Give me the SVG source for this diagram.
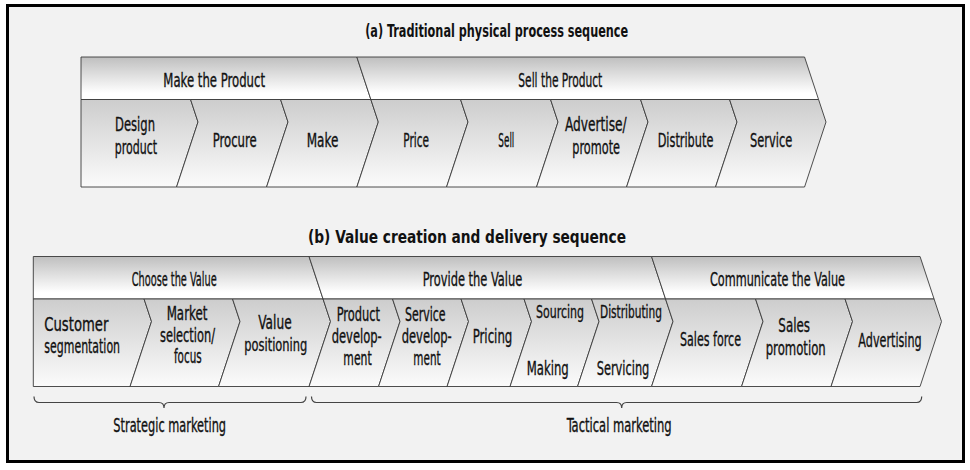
<svg xmlns="http://www.w3.org/2000/svg" width="970" height="470" viewBox="0 0 970 470">
<style>
.hd{fill:url(#gh);stroke:#3a3a3a;stroke-width:0.9}
.it{fill:url(#gi);stroke:#3a3a3a;stroke-width:0.9}
text{font-family:"Liberation Sans Narrow","DejaVu Sans Condensed","Liberation Sans",Arial,sans-serif;fill:#111;text-anchor:middle}
.t{font-size:17px;font-weight:bold}
.l{font-size:20px;stroke:#111;stroke-width:0.35}
.s{font-size:19px}
.xs{font-size:18px}
.br{fill:none;stroke:#444;stroke-width:1.2}
</style>
<defs>
<linearGradient id="gh" x1="0" y1="0" x2="0" y2="1"><stop offset="0" stop-color="#bfbfbf"/><stop offset="0.85" stop-color="#ffffff"/><stop offset="1" stop-color="#ffffff"/></linearGradient>
<linearGradient id="gi" x1="0" y1="0" x2="0" y2="1"><stop offset="0" stop-color="#cdcdcd"/><stop offset="1" stop-color="#fbfbfb"/></linearGradient>
</defs>
<rect x="7.5" y="5.5" width="956" height="456" fill="#f2f2f2" stroke="#000" stroke-width="3"/>
<text class="t" x="496.7" y="36.7" textLength="263" lengthAdjust="spacingAndGlyphs">(a) Traditional physical process sequence</text>
<text class="t" x="467" y="242.7" textLength="318" lengthAdjust="spacingAndGlyphs">(b) Value creation and delivery sequence</text>

<g id="a-make-product"><polygon class="hd" points="81,57 356.85,57 370.87,99.5 81,99.5"/><text class="l" x="214.2" y="87" textLength="101.7" lengthAdjust="spacingAndGlyphs">Make the Product</text></g>
<g id="a-sell-product"><polygon class="hd" points="356.85,57 804.55,57 818.57,99.5 370.87,99.5"/><text class="l" x="560.3" y="87" textLength="84" lengthAdjust="spacingAndGlyphs">Sell the Product</text></g>
<g id="a-design"><polygon class="it" points="81,99.5 190.57,99.5 198,122 176.55,187 81,187"/><text class="l" x="135" y="130.5" textLength="40" lengthAdjust="spacingAndGlyphs">Design</text><text class="l" x="136" y="153.5" textLength="42.3" lengthAdjust="spacingAndGlyphs">product</text></g>
<g id="a-procure"><polygon class="it" points="190.57,99.5 280.57,99.5 288,122 266.55,187 176.55,187 198,122"/><text class="l" x="234.7" y="146.7" textLength="44" lengthAdjust="spacingAndGlyphs">Procure</text></g>
<g id="a-make"><polygon class="it" points="280.57,99.5 370.87,99.5 378.3,122 356.85,187 266.55,187 288,122"/><text class="l" x="322.5" y="146.7" textLength="31.7" lengthAdjust="spacingAndGlyphs">Make</text></g>
<g id="a-price"><polygon class="it" points="370.87,99.5 460.57,99.5 468,122 446.55,187 356.85,187 378.3,122"/><text class="l" x="416.2" y="146.7" textLength="25.7" lengthAdjust="spacingAndGlyphs">Price</text></g>
<g id="a-sell"><polygon class="it" points="460.57,99.5 550.57,99.5 558,122 536.55,187 446.55,187 468,122"/><text class="l" x="506.3" y="146.7" textLength="16" lengthAdjust="spacingAndGlyphs">Sell</text></g>
<g id="a-advertise"><polygon class="it" points="550.57,99.5 640.57,99.5 648,122 626.55,187 536.55,187 558,122"/><text class="l" x="595.8" y="130.5" textLength="61.7" lengthAdjust="spacingAndGlyphs">Advertise/</text><text class="l" x="596.2" y="153.5" textLength="47.7" lengthAdjust="spacingAndGlyphs">promote</text></g>
<g id="a-distribute"><polygon class="it" points="640.57,99.5 729.57,99.5 737,122 715.55,187 626.55,187 648,122"/><text class="l" x="685.5" y="146.7" textLength="55.7" lengthAdjust="spacingAndGlyphs">Distribute</text></g>
<g id="a-service"><polygon class="it" points="729.57,99.5 818.57,99.5 826,122 804.55,187 715.55,187 737,122"/><text class="l" x="771.2" y="146.7" textLength="42.3" lengthAdjust="spacingAndGlyphs">Service</text></g>

<g id="b-choose"><polygon class="hd" points="33.3,256.5 309.05,256.5 323.07,299 33.3,299"/><text class="l" x="174.2" y="286" textLength="85" lengthAdjust="spacingAndGlyphs">Choose the Value</text></g>
<g id="b-provide"><polygon class="hd" points="309.05,256.5 651.55,256.5 665.57,299 323.07,299"/><text class="l" x="472.5" y="286" textLength="99.7" lengthAdjust="spacingAndGlyphs">Provide the Value</text></g>
<g id="b-communicate"><polygon class="hd" points="651.55,256.5 920.05,256.5 934.07,299 665.57,299"/><text class="l" x="777.5" y="286" textLength="135" lengthAdjust="spacingAndGlyphs">Communicate the Value</text></g>
<g id="b-customer"><polygon class="it" points="33.3,299 144.07,299 151.5,321.5 130.05,386.5 33.3,386.5"/><text class="l" x="76.3" y="331" textLength="64" lengthAdjust="spacingAndGlyphs">Customer</text><text class="l" x="82.2" y="353" textLength="75.7" lengthAdjust="spacingAndGlyphs">segmentation</text></g>
<g id="b-market"><polygon class="it" points="144.07,299 232.57,299 240,321.5 218.55,386.5 130.05,386.5 151.5,321.5"/><text class="l s" x="187" y="320" textLength="40.7" lengthAdjust="spacingAndGlyphs">Market</text><text class="l s" x="187.5" y="341.5" textLength="55" lengthAdjust="spacingAndGlyphs">selection/</text><text class="l s" x="187.8" y="363" textLength="27.7" lengthAdjust="spacingAndGlyphs">focus</text></g>
<g id="b-value-pos"><polygon class="it" points="232.57,299 323.07,299 330.5,321.5 309.05,386.5 218.55,386.5 240,321.5"/><text class="l s" x="275" y="329" textLength="33.3" lengthAdjust="spacingAndGlyphs">Value</text><text class="l xs" x="275.8" y="350.5" textLength="63" lengthAdjust="spacingAndGlyphs">positioning</text></g>
<g id="b-product-dev"><polygon class="it" points="323.07,299 392.57,299 400,321.5 378.55,386.5 309.05,386.5 330.5,321.5"/><text class="l s" x="358.3" y="321" textLength="43.3" lengthAdjust="spacingAndGlyphs">Product</text><text class="l s" x="356.7" y="342.5" textLength="50" lengthAdjust="spacingAndGlyphs">develop-</text><text class="l s" x="357.5" y="365" textLength="28.3" lengthAdjust="spacingAndGlyphs">ment</text></g>
<g id="b-service-dev"><polygon class="it" points="392.57,299 461.07,299 468.5,321.5 447.05,386.5 378.55,386.5 400,321.5"/><text class="l s" x="425.3" y="321" textLength="40.7" lengthAdjust="spacingAndGlyphs">Service</text><text class="l s" x="426.7" y="342.5" textLength="50" lengthAdjust="spacingAndGlyphs">develop-</text><text class="l s" x="427" y="365" textLength="27.3" lengthAdjust="spacingAndGlyphs">ment</text></g>
<g id="b-pricing"><polygon class="it" points="461.07,299 524.07,299 531.5,321.5 510.05,386.5 447.05,386.5 468.5,321.5"/><text class="l" x="492.5" y="343.3" textLength="39.7" lengthAdjust="spacingAndGlyphs">Pricing</text></g>
<g id="b-sourcing"><polygon class="it" points="524.07,299 591.57,299 599,321.5 577.55,386.5 510.05,386.5 531.5,321.5"/><text class="l xs" x="560" y="318.3" textLength="48" lengthAdjust="spacingAndGlyphs">Sourcing</text><text class="l" x="547.7" y="375" textLength="42" lengthAdjust="spacingAndGlyphs">Making</text></g>
<g id="b-distributing"><polygon class="it" points="591.57,299 665.57,299 673,321.5 651.55,386.5 577.55,386.5 599,321.5"/><text class="l xs" x="631" y="318.3" textLength="62" lengthAdjust="spacingAndGlyphs">Distributing</text><text class="l" x="623" y="375" textLength="52.7" lengthAdjust="spacingAndGlyphs">Servicing</text></g>
<g id="b-sales-force"><polygon class="it" points="665.57,299 755.57,299 763,321.5 741.55,386.5 651.55,386.5 673,321.5"/><text class="l" x="710.5" y="346" textLength="61" lengthAdjust="spacingAndGlyphs">Sales force</text></g>
<g id="b-sales-promotion"><polygon class="it" points="755.57,299 845.07,299 852.5,321.5 831.05,386.5 741.55,386.5 763,321.5"/><text class="l" x="794.2" y="331.7" textLength="31.7" lengthAdjust="spacingAndGlyphs">Sales</text><text class="l" x="795.7" y="355" textLength="60" lengthAdjust="spacingAndGlyphs">promotion</text></g>
<g id="b-advertising"><polygon class="it" points="845.07,299 934.07,299 941.5,321.5 920.05,386.5 831.05,386.5 852.5,321.5"/><text class="l" x="890" y="346.7" textLength="63.3" lengthAdjust="spacingAndGlyphs">Advertising</text></g>

<g id="connectors">
<path class="br" d="M34,396.5 Q34,402.5 39,402.5 H159 Q164,402.5 164,408 Q164,402.5 169,402.5 H301 Q306,402.5 306,396.5"/>
<path class="br" d="M311.5,396.5 Q311.5,402.5 316.5,402.5 H616.7 Q621.7,402.5 621.7,408 Q621.7,402.5 626.7,402.5 H916.7 Q921.7,402.5 921.7,396.5"/>
</g>
<g id="strategic-label"><text class="l" x="169.7" y="431.7" textLength="112.7" lengthAdjust="spacingAndGlyphs">Strategic marketing</text></g>
<g id="tactical-label"><text class="l" x="619.2" y="431.7" textLength="105" lengthAdjust="spacingAndGlyphs">Tactical marketing</text></g>
</svg>
